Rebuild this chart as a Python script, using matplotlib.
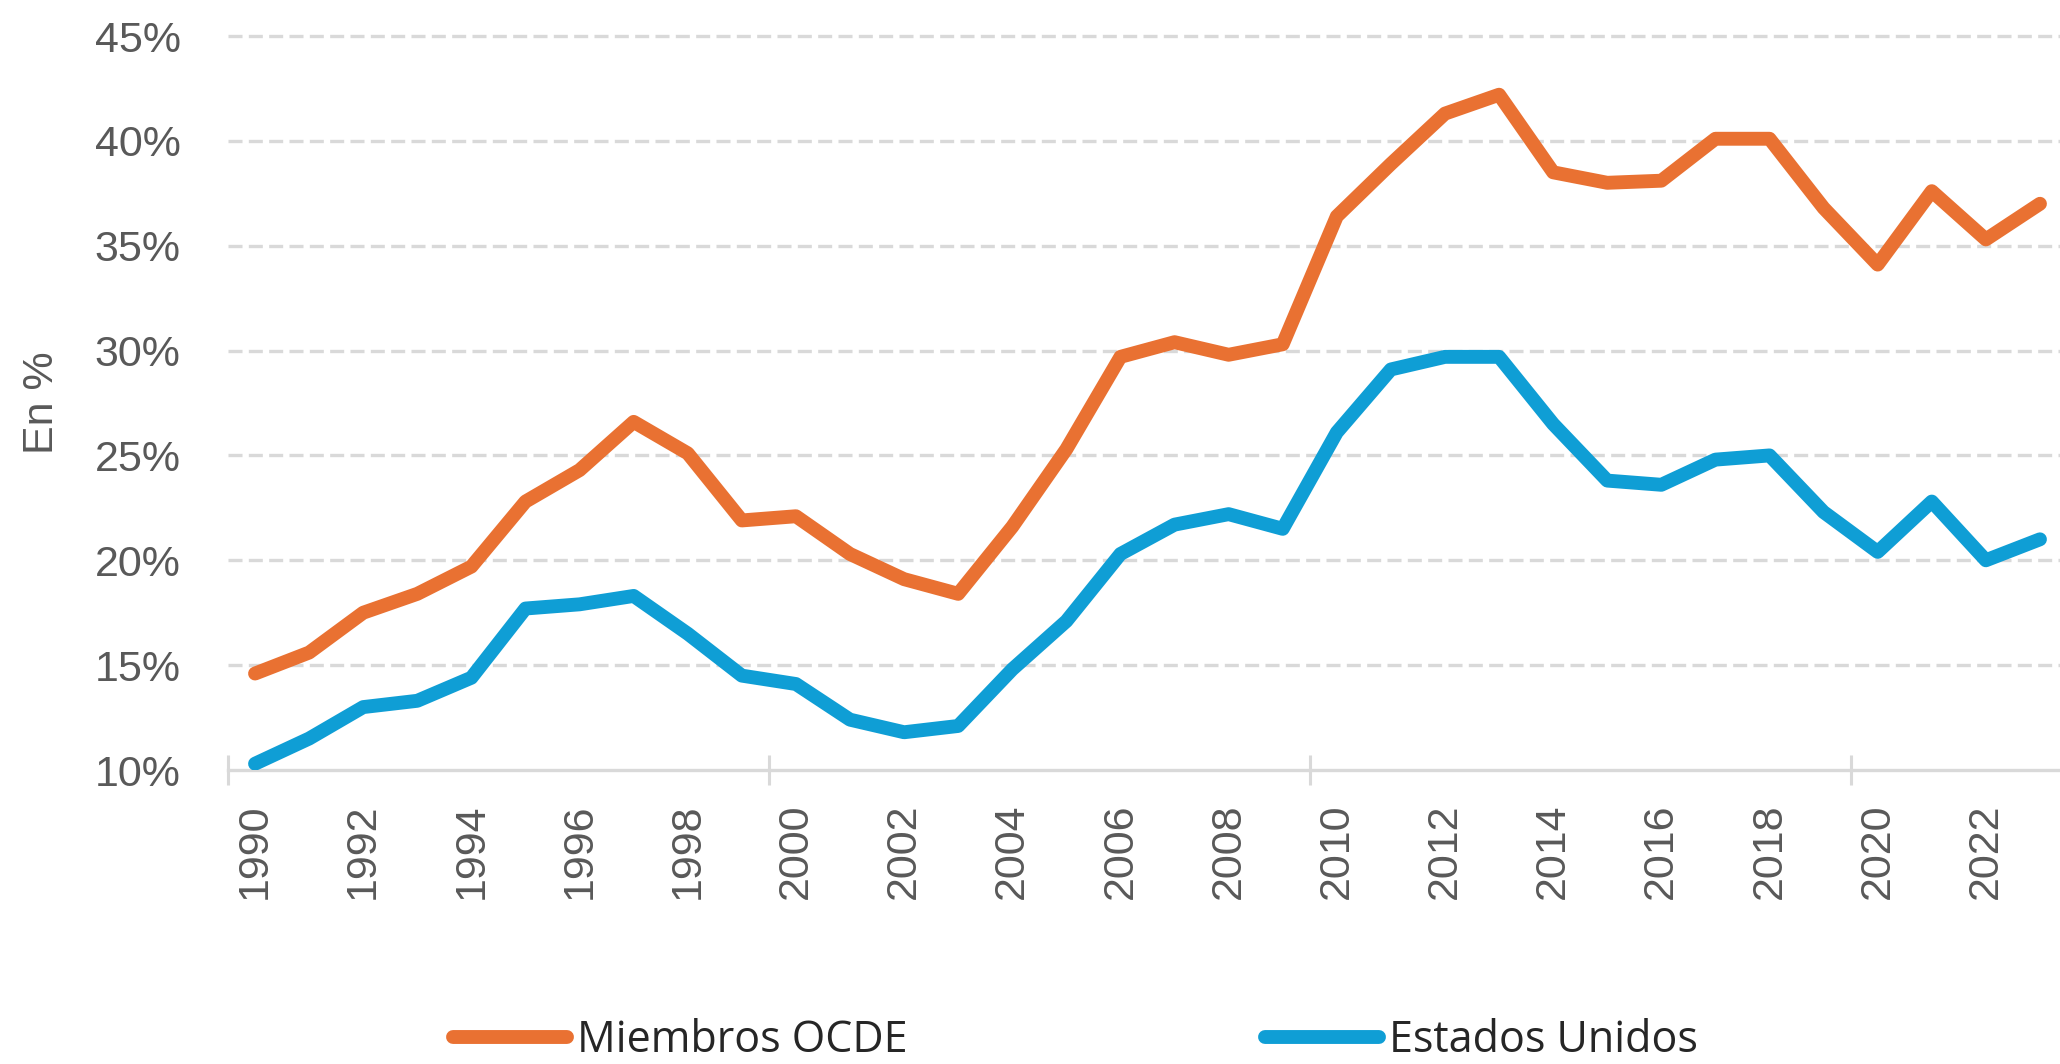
import matplotlib
matplotlib.use("Agg")
import matplotlib.pyplot as plt
from matplotlib.ticker import FixedLocator, FuncFormatter

years = list(range(1990, 2024))
ocde = [14.6, 15.6, 17.5, 18.4, 19.7, 22.8, 24.3, 26.6, 25.1, 21.9,
        22.1, 20.3, 19.1, 18.4, 21.6, 25.3, 29.7, 30.4, 29.8, 30.3,
        36.4, 38.9, 41.3, 42.2, 38.5, 38.0, 38.1, 40.1, 40.1, 36.8,
        34.1, 37.6, 35.3, 37.0]
eeuu = [10.3, 11.5, 13.0, 13.3, 14.4, 17.7, 17.9, 18.3, 16.5, 14.5,
        14.1, 12.4, 11.8, 12.1, 14.8, 17.1, 20.3, 21.7, 22.2, 21.5,
        26.1, 29.1, 29.7, 29.7, 26.5, 23.8, 23.6, 24.8, 25.0, 22.3,
        20.4, 22.8, 20.0, 21.0]
series_names = ["Miembros OCDE", "Estados Unidos"]
y_ticks = [10, 15, 20, 25, 30, 35, 40, 45]
x_label_years = list(range(1990, 2023, 2))
y_label = "En %"

C_ORANGE = "#E97132"
C_BLUE = "#0F9ED5"
C_TEXT = "#595959"
C_GRID = "#D9D9D9"

W, H = 2060, 1064
fig = plt.figure(figsize=(W / 100, H / 100), dpi=100)
left_px, right_px, top_px, bot_px = 228, 2067, 36, 770
ax = fig.add_axes([left_px / W, 1 - bot_px / H, (right_px - left_px) / W, (bot_px - top_px) / H])

lw = 10
l1, = ax.plot(years, ocde, color=C_ORANGE, lw=lw, solid_capstyle="round",
              solid_joinstyle="round", label=series_names[0], zorder=3)
l2, = ax.plot(years, eeuu, color=C_BLUE, lw=lw, solid_capstyle="round",
              solid_joinstyle="round", label=series_names[1], zorder=3)

ax.set_xlim(1989.5, 2023.5)
ax.set_ylim(10, 45)

# y axis
ax.set_yticks(y_ticks)
ax.yaxis.set_major_formatter(FuncFormatter(lambda v, p: f"{v:.0f}%"))
ax.tick_params(axis="y", length=0, pad=34, labelsize=31, labelcolor=C_TEXT)
for t in y_ticks[1:]:
    ax.axhline(t, color=C_GRID, lw=2.4, dashes=(4.2, 1.9), zorder=1, clip_on=False)

# x axis: boundary ticks every 10 years, labels every 2 years
ax.xaxis.set_major_locator(FixedLocator([1989.5, 1999.5, 2009.5, 2019.5]))
ax.xaxis.set_major_formatter(FuncFormatter(lambda v, p: ""))
ax.xaxis.set_minor_locator(FixedLocator(x_label_years))
ax.xaxis.set_minor_formatter(FuncFormatter(lambda v, p: f"{int(round(v))}"))
ax.tick_params(axis="x", which="major", direction="inout", length=22, width=2.2, color=C_GRID)
ax.tick_params(axis="x", which="minor", length=0, pad=24, labelsize=31,
               labelcolor=C_TEXT, labelrotation=90)
for lab in ax.get_xticklabels(minor=True):
    lab.set_fontfamily("Liberation Sans")

for s in ["top", "right", "left"]:
    ax.spines[s].set_visible(False)
ax.spines["bottom"].set_color(C_GRID)
ax.spines["bottom"].set_linewidth(2.4)
ax.spines["bottom"].set_zorder(2)

for lab in ax.get_yticklabels():
    lab.set_fontfamily("Liberation Sans")

ax.set_ylabel(y_label, fontsize=31, color=C_TEXT, family="Liberation Sans", labelpad=0)
ax.yaxis.set_label_coords(-(228 - 42) / (right_px - left_px), 0.5)
ax.yaxis.label.set_va("center")

leg = fig.legend(handles=[l1, l2], loc="center", bbox_to_anchor=(0.522, 0.022),
                 ncol=2, frameon=False, prop={"family": "Open Sans", "size": 31},
                 handlelength=2.65, handletextpad=0.24, columnspacing=8.3, borderpad=0)
for t in leg.get_texts():
    t.set_color("#262626")

fig.savefig("out.png", dpi=100, facecolor="white")
